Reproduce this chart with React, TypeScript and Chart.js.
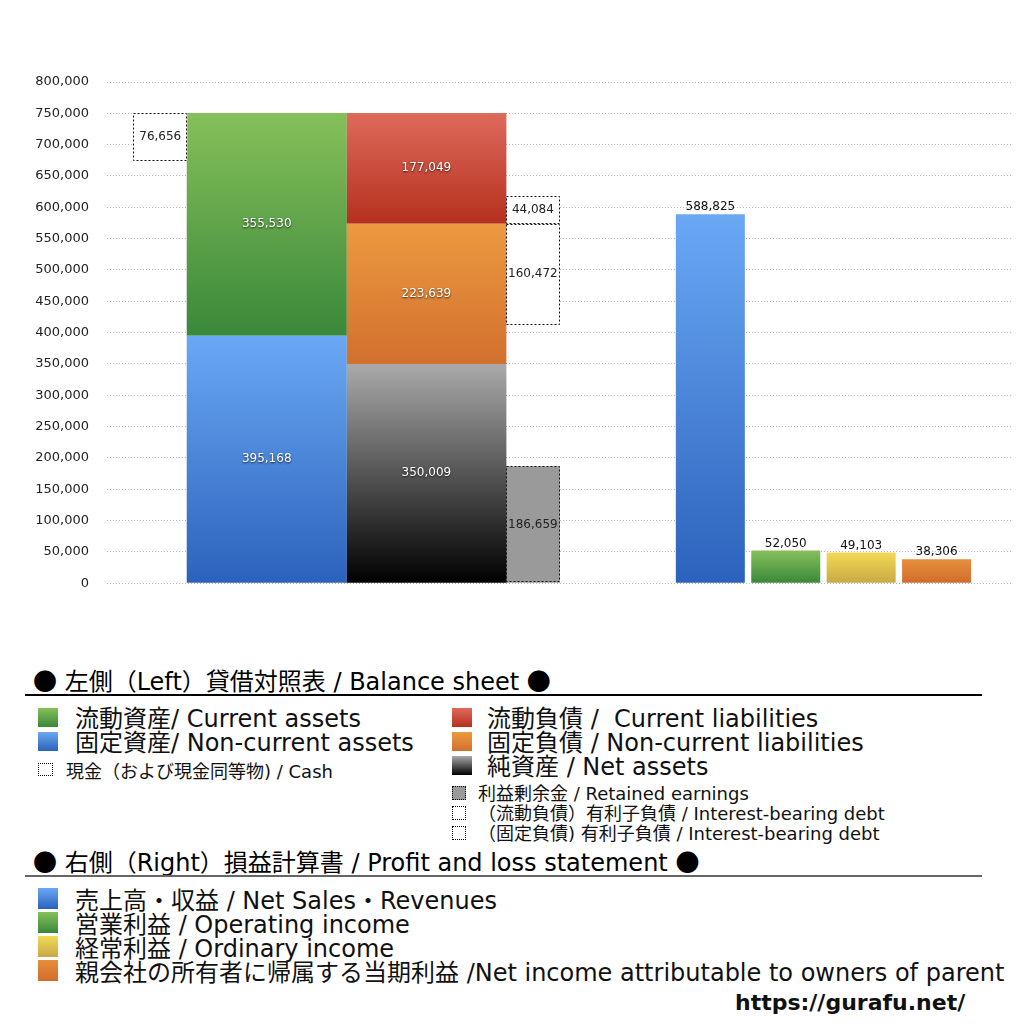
import React, { useEffect, useRef } from 'react';
import { Chart, registerables } from 'chart.js';

Chart.register(...registerables);

// ---------------- Data ----------------
// Left (balance sheet) horizontal slots of the hidden category axis
const bsSlots = ['', '現金', '', '資産', '', '', '負債・純資産', '', '補足', '', '', '', '', '', '', '', '', ''];
const assetItems = ['固定資産', '流動資産'];
const assetValues = [395168, 355530];
const liabilityItems = ['純資産', '固定負債', '流動負債'];
const liabilityValues = [350009, 223639, 177049];
const cashValues = [76656];
const retainedEarningsValues = [186659];
const debtItems = ['(流動負債) 有利子負債', '(固定負債) 有利子負債'];
const debtValues = [44084, 160472];

// Right (P&L) slots of the second hidden category axis
const plSlots = ['', '', '', '', '', '', '', '', '売上高・収益', '営業利益', '経常利益', '当期利益', ''];
const plItems = ['売上高・収益', '営業利益', '経常利益', '当期利益'];
const plValues = [588825, 52050, 49103, 38306];

const yMin = 0;
const yMax = 800000;
const yStep = 50000;

// ---------------- Styles ----------------
const GRAD: Record<string, [string, string]> = {
  blue: ['#6aa8f4', '#2c62bc'],
  green: ['#86c05a', '#3a883a'],
  red: ['#de6a5c', '#b5301e'],
  orange: ['#eb9a40', '#d2702e'],
  black: ['#aaaaaa', '#000000'],
  yellow: ['#f2da55', '#c8a845'],
  orange2: ['#e68f3d', '#d16c2b'],
};
const plGrads = [GRAD.blue, GRAD.green, GRAD.yellow, GRAD.orange2];

const LATIN = '"DejaVu Sans", sans-serif';
const CJK = '"Noto Sans CJK JP", sans-serif';

function vGrad(stops: [string, string]) {
  return (c: any) => {
    const chart = c.chart;
    const ys = chart.scales && chart.scales.y;
    const raw = c.raw;
    if (!ys || raw == null || c.type !== 'data') return stops[1];
    const v = raw.y !== undefined ? raw.y : raw;
    const [a, b] = Array.isArray(v) ? v : [0, v];
    const top = ys.getPixelForValue(Math.max(a, b));
    const bot = ys.getPixelForValue(Math.min(a, b));
    if (!isFinite(top) || !isFinite(bot) || top === bot) return stops[1];
    const g = chart.ctx.createLinearGradient(0, top, 0, bot);
    g.addColorStop(0, stops[0]);
    g.addColorStop(1, stops[1]);
    return g;
  };
}

const NARROW = 1.014;
const WIDE = 3.005;

function leftBar(slotLabel: string, range: [number, number], label: string, extra: any) {
  return {
    label,
    xAxisID: 'xL',
    data: [{ x: slotLabel, y: range }],
    grouped: false,
    categoryPercentage: 1,
    borderWidth: 0,
    borderSkipped: false,
    ...extra,
  };
}

function buildDatasets() {
  const totalAssets = assetValues[0] + assetValues[1];
  const netAssets = liabilityValues[0];
  const nonCurLiab = liabilityValues[1];
  const debtBase = netAssets + nonCurLiab;
  const ds: any[] = [];
  ds.push(leftBar(bsSlots[1], [totalAssets - cashValues[0], totalAssets], '現金', {
    barPercentage: NARROW, backgroundColor: '#ffffff', dashed: true,
  }));
  ds.push(leftBar(bsSlots[3], [0, assetValues[0]], assetItems[0], {
    barPercentage: WIDE, backgroundColor: vGrad(GRAD.blue), labelLight: true,
  }));
  ds.push(leftBar(bsSlots[3], [assetValues[0], totalAssets], assetItems[1], {
    barPercentage: WIDE, backgroundColor: vGrad(GRAD.green), labelLight: true,
  }));
  let acc = 0;
  const liabGrads = [GRAD.black, GRAD.orange, GRAD.red];
  liabilityValues.forEach((v, k) => {
    ds.push(leftBar(bsSlots[6], [acc, acc + v], liabilityItems[k], {
      barPercentage: WIDE, backgroundColor: vGrad(liabGrads[k]), labelLight: true,
    }));
    acc += v;
  });
  ds.push(leftBar(bsSlots[8], [0, retainedEarningsValues[0]], '利益剰余金', {
    barPercentage: NARROW, backgroundColor: '#9a9a9a', dashed: true,
  }));
  ds.push(leftBar(bsSlots[8], [debtBase - debtValues[1], debtBase], debtItems[1], {
    barPercentage: NARROW, backgroundColor: '#ffffff', dashed: true,
  }));
  ds.push(leftBar(bsSlots[8], [debtBase, debtBase + debtValues[0]], debtItems[0], {
    barPercentage: NARROW, backgroundColor: '#ffffff', dashed: true,
  }));
  ds.push({
    label: '損益計算書',
    xAxisID: 'xR',
    data: plValues.map((v, k) => ({ x: plItems[k], y: v })),
    grouped: false,
    categoryPercentage: 1,
    barPercentage: 0.915,
    borderWidth: 0,
    backgroundColor: (c: any) => vGrad(plGrads[c.dataIndex] || GRAD.blue)(c),
    labelPos: 'top',
  });
  return ds;
}

const valueLabels = {
  id: 'valueLabels',
  afterDatasetsDraw(chart: any) {
    const ctx = chart.ctx;
    chart.data.datasets.forEach((ds: any, di: number) => {
      const meta = chart.getDatasetMeta(di);
      meta.data.forEach((el: any, i: number) => {
        const raw = ds.data[i];
        const v = raw && raw.y !== undefined ? raw.y : raw;
        if (v == null) return;
        const val = Array.isArray(v) ? Math.abs(v[1] - v[0]) : v;
        const { x, y, base, width } = el.getProps(['x', 'y', 'base', 'width'], true);
        const top = Math.min(y, base);
        const bot = Math.max(y, base);
        ctx.save();
        if (ds.dashed) {
          ctx.setLineDash([2, 2]);
          ctx.lineWidth = 1;
          ctx.strokeStyle = '#111';
          ctx.strokeRect(Math.round(x - width / 2) + 0.5, Math.round(top) + 0.5, Math.round(width) - 1, Math.round(bot - top) - 1);
          ctx.setLineDash([]);
        }
        ctx.font = '12px ' + LATIN;
        ctx.textAlign = 'center';
        const text = val.toLocaleString('en-US');
        if (ds.labelPos === 'top') {
          ctx.fillStyle = '#111';
          ctx.textBaseline = 'bottom';
          ctx.fillText(text, x, top - 1);
        } else {
          ctx.textBaseline = 'middle';
          if (ds.labelLight) {
            ctx.shadowColor = 'rgba(0,0,0,0.75)';
            ctx.shadowBlur = 2;
            ctx.shadowOffsetX = 0;
            ctx.shadowOffsetY = 1;
            ctx.fillStyle = '#ffffff';
          } else {
            ctx.fillStyle = '#222';
          }
          ctx.fillText(text, x, (top + bot) / 2);
        }
        ctx.restore();
      });
    });
  },
};

// ---------------- Legend content ----------------
const bsHeader = '● 左側（Left）貸借対照表 / Balance sheet ●';
const plHeader = '● 右側（Right）損益計算書 / Profit and loss statement ●';
const bsLegendLeft = [
  { label: '流動資産/ Current assets', grad: GRAD.green },
  { label: '固定資産/ Non-current assets', grad: GRAD.blue },
];
const cashLegend = '現金（および現金同等物) / Cash';
const bsLegendRight = [
  { label: '流動負債 /  Current liabilities', grad: GRAD.red },
  { label: '固定負債 / Non-current liabilities', grad: GRAD.orange },
  { label: '純資産 / Net assets', grad: GRAD.black },
];
const bsLegendSmall = [
  { label: '利益剰余金 / Retained earnings', fill: '#9a9a9a' },
  { label: '（流動負債）有利子負債 / Interest-bearing debt', fill: '#ffffff' },
  { label: '（固定負債) 有利子負債 / Interest-bearing debt', fill: '#ffffff' },
];
const plLegend = [
  { label: '売上高・収益 / Net Sales・Revenues', grad: GRAD.blue },
  { label: '営業利益 / Operating income', grad: GRAD.green },
  { label: '経常利益 / Ordinary income', grad: GRAD.yellow },
  { label: '親会社の所有者に帰属する当期利益 /Net income attributable to owners of parent', grad: GRAD.orange2 },
];

const CJK_RE = /([●\u3000-\u30ff\u3400-\u9fff\uff00-\uffef]+)/;

function Mixed({ text }: { text: string }) {
  const parts = text.split(CJK_RE).filter((p) => p !== '');
  return (
    <>
      {parts.map((p, i) => (
        <span key={i} style={{ fontFamily: CJK_RE.test(p) ? CJK : LATIN }}>{p}</span>
      ))}
    </>
  );
}

const abs = (top: number, left: number, extra: any = {}) => ({ position: 'absolute' as const, top, left, whiteSpace: 'pre' as const, ...extra });

function Swatch({ top, left, w, h, grad, fill, dotted }: any) {
  return (
    <div style={abs(top, left, {
      width: w, height: h, boxSizing: 'border-box',
      background: grad ? `linear-gradient(to bottom, ${grad[0]}, ${grad[1]})` : fill,
      border: dotted ? '1px dotted #000' : 'none',
    })} />
  );
}

export default function App() {
  const ref = useRef<HTMLCanvasElement | null>(null);
  useEffect(() => {
    document.body.style.margin = '0';
    const chart = new Chart(ref.current as HTMLCanvasElement, {
      type: 'bar',
      data: { datasets: buildDatasets() },
      options: {
        animation: false,
        responsive: false,
        layout: { padding: { left: 0, top: 82, right: 12, bottom: 9 } },
        plugins: { legend: { display: false }, tooltip: { enabled: false } },
        scales: {
          xL: { type: 'category', labels: bsSlots, display: false, offset: false, position: 'bottom', ticks: { autoSkip: false } },
          xR: { type: 'category', labels: plSlots, display: false, offset: false, position: 'bottom', ticks: { autoSkip: false } },
          y: {
            type: 'linear',
            min: yMin,
            max: yMax,
            afterFit: (s: any) => { s.width = 107; },
            ticks: {
              stepSize: yStep,
              padding: 18,
              color: '#222',
              font: { family: LATIN, size: 13 },
              callback: (v: any) => Number(v).toLocaleString('en-US'),
            },
            grid: { color: '#b4b4b4', drawTicks: false, lineWidth: 1 },
            border: { display: false, dash: [1, 2] },
          },
        },
      } as any,
      plugins: [valueLabels],
    });
    return () => chart.destroy();
  }, []);

  const big = { fontSize: 24, lineHeight: '24px', color: '#111' };
  const small = { fontSize: 18, lineHeight: '18px', color: '#111' };

  return (
    <div style={{ position: 'relative', width: 1024, height: 1024, background: '#fff', overflow: 'hidden' }}>
      <canvas ref={ref} width={1024} height={609} style={{ position: 'absolute', top: 0, left: 0, display: 'block' }} />

      {/* Balance sheet legend */}
      <div style={abs(667, 33, { fontSize: 24, lineHeight: '26px', color: '#000' })}><Mixed text={bsHeader} /></div>
      <div style={abs(694, 25, { width: 957, height: 1.5, background: '#000' })} />

      {bsLegendLeft.map((it, k) => (
        <React.Fragment key={'bl' + k}>
          <Swatch top={708 + k * 24} left={38} w={20} h={19} grad={it.grad} />
          <div style={abs(705 + k * 24, 75, big)}><Mixed text={it.label} /></div>
        </React.Fragment>
      ))}
      <Swatch top={763} left={38} w={15} h={13} fill="#fff" dotted />
      <div style={abs(761, 66, small)}><Mixed text={cashLegend} /></div>

      {bsLegendRight.map((it, k) => (
        <React.Fragment key={'br' + k}>
          <Swatch top={708 + k * 24} left={452} w={20} h={19} grad={it.grad} />
          <div style={abs(705 + k * 24, 487, big)}><Mixed text={it.label} /></div>
        </React.Fragment>
      ))}
      {bsLegendSmall.map((it, k) => (
        <React.Fragment key={'bs' + k}>
          <Swatch top={786 + k * 20} left={452} w={14} h={14} fill={it.fill} dotted />
          <div style={abs(783 + k * 20, 478, small)}><Mixed text={it.label} /></div>
        </React.Fragment>
      ))}

      {/* P&L legend */}
      <div style={abs(848, 33, { fontSize: 24, lineHeight: '26px', color: '#000' })}><Mixed text={plHeader} /></div>
      <div style={abs(875, 25, { width: 957, height: 2, background: '#666' })} />
      {plLegend.map((it, k) => (
        <React.Fragment key={'pl' + k}>
          <Swatch top={888 + k * 24} left={38} w={20} h={21} grad={it.grad} />
          <div style={abs(887 + k * 24, 75, big)}><Mixed text={it.label} /></div>
        </React.Fragment>
      ))}

      <div style={abs(990, 735, { fontFamily: LATIN, fontWeight: 700, fontSize: 22, lineHeight: '26px', color: '#111' })}>https://gurafu.net/</div>
    </div>
  );
}
